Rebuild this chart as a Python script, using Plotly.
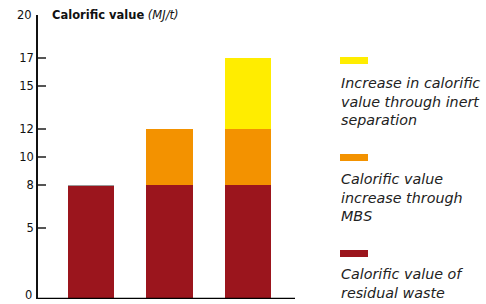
import plotly.graph_objects as go

categories = ["A", "B", "C"]
residual = [8, 8, 8]
mbs = [0, 4, 4]
inert = [0, 0, 5]
series_names = [
    "Calorific value of<br>residual waste",
    "Calorific value<br>increase through<br>MBS",
    "Increase in calorific<br>value through inert<br>separation",
]
colors = ["#9B151D", "#F39200", "#FFED00"]
ytick_vals = [5, 8, 10, 12, 15, 17]
end_labels = [0, 20]

fig = go.Figure()
for vals, name, col in zip([residual, mbs, inert], series_names, colors):
    fig.add_trace(go.Bar(x=[0, 1, 2], y=vals, name=name, marker_color=col,
                         marker_line_width=0, width=0.59, showlegend=False))
# thin grey cap on the first bar (empty stacked segment outline)
fig.data[1].marker.line = dict(width=1, color=["#9a9a9a", "rgba(0,0,0,0)", "rgba(0,0,0,0)"])

fnt = "DejaVu Sans"
fig.update_layout(
    barmode="stack",
    width=486, height=304,
    margin=dict(l=38, r=191, t=15, b=5),
    plot_bgcolor="white", paper_bgcolor="white",
    font=dict(family=fnt, size=11, color="#111"),
    xaxis=dict(range=[-0.675, 2.6], showticklabels=False, ticks="",
               showgrid=False, zeroline=False, showline=False),
    yaxis=dict(range=[0, 20], tickvals=ytick_vals, ticks="inside", ticklen=8,
               tickwidth=1.5, tickcolor="#555", showgrid=False, zeroline=False,
               showline=True, linecolor="#111", linewidth=1.5,
               tickfont=dict(size=11.5, color="#111")),
)
# baseline
fig.add_shape(type="line", xref="paper", yref="y", x0=0, x1=1, y0=0, y1=0,
              line=dict(color="black", width=2.5))
# end labels "0" and "20" (no tick marks there)
fig.add_annotation(xref="paper", yref="y", x=0, y=end_labels[0], text=str(end_labels[0]),
                   showarrow=False, xanchor="right", yanchor="bottom", xshift=-4, yshift=-5,
                   font=dict(size=11.5, color="#111"))
fig.add_annotation(xref="paper", yref="y", x=0, y=end_labels[1], text=str(end_labels[1]),
                   showarrow=False, xanchor="right", xshift=-4,
                   font=dict(size=11.5, color="#111"))
fig.add_annotation(xref="paper", yref="y", x=0, y=20, xanchor="left", xshift=12,
                   text="<b>Calorific value</b> <i>(MJ/t)</i>", showarrow=False,
                   font=dict(size=11.5, color="#111"))

# custom legend
leg_y = [(57, 73), (154, 169), (250, 264)]  # swatch top px, text top px
order = [2, 1, 0]
H = 304
for (sy, ty), idx in zip(leg_y, order):
    fig.add_shape(type="rect", xref="paper", yref="paper",
                  x0=(340 - 38) / 257, x1=(368 - 38) / 257,
                  y0=(H - 5 - (sy + 7)) / 284, y1=(H - 5 - sy) / 284,
                  fillcolor=colors[idx], line_width=0)
    fig.add_annotation(xref="paper", yref="paper", x=(339 - 38) / 257,
                       y=(H - 5 - ty) / 284, xanchor="left", yanchor="top",
                       align="left", showarrow=False, text="<i>" + series_names[idx] + "</i>",
                       font=dict(size=14.3, color="#222"))

fig.write_html("out.html", config={"displayModeBar": False},
               post_script="document.body.style.margin='0';document.body.style.overflow='hidden';")
